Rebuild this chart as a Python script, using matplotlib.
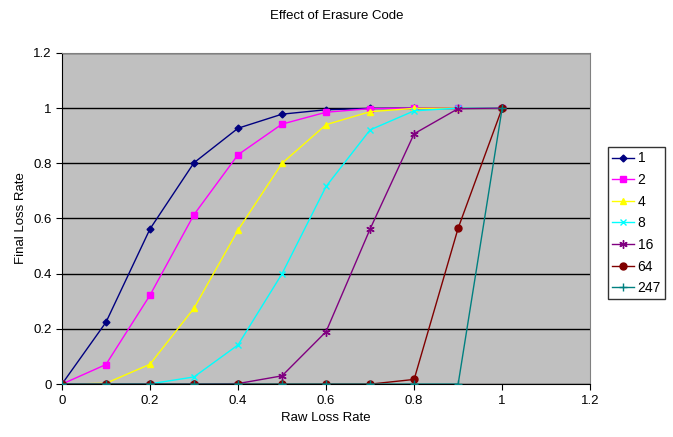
import matplotlib
matplotlib.use("Agg")
import matplotlib.pyplot as plt

plt.rcParams['font.family'] = ['Liberation Sans', 'DejaVu Sans']

x = [0, 0.1, 0.2, 0.3, 0.4, 0.5, 0.6, 0.7, 0.8, 0.9, 1.0]
s1 = [0, 0.224, 0.562, 0.802, 0.927, 0.978, 0.994, 0.999, 1, 1, 1]
s2 = [0, 0.071, 0.322, 0.614, 0.831, 0.942, 0.985, 0.998, 1, 1, 1]
s4 = [0, 0.003, 0.072, 0.275, 0.558, 0.80, 0.94, 0.987, 0.999, 1, 1]
s8 = [0, 0, 0.001, 0.026, 0.142, 0.40, 0.716, 0.921, 0.99, 1, 1]
s16 = [0, 0, 0, 0, 0.002, 0.03, 0.19, 0.562, 0.907, 0.998, 1]
s64 = [0, 0, 0, 0, 0, 0, 0, 0, 0.017, 0.565, 1]
s247 = [0, 0, 0, 0, 0, 0, 0, 0, 0, 0, 1]

labels = ['1', '2', '4', '8', '16', '64', '247']
series = [s1, s2, s4, s8, s16, s64, s247]
colors = ['#000080', '#FF00FF', '#FFFF00', '#00FFFF', '#800080', '#800000', '#008080']
markers = ['D', 's', '^', 'x', (6, 2, 0), 'o', '+']
msizes = [3.5, 5, 5, 5, 6, 5, 6]

fig = plt.figure(figsize=(6.73, 4.37), dpi=100)
ax = fig.add_axes([0.092, 0.121, 0.785, 0.758])
ax.set_facecolor('#C0C0C0')

for ys, lab, c, m, ms in zip(series, labels, colors, markers, msizes):
    ax.plot(x, ys, color=c, marker=m, markersize=ms, linewidth=1.0,
            markeredgewidth=1.0, label=lab, zorder=3)

ax.set_xlim(0, 1.2)
ax.set_ylim(0, 1.2)
xt = [0, 0.2, 0.4, 0.6, 0.8, 1, 1.2]
ax.set_xticks(xt)
ax.set_xticklabels(['0', '0.2', '0.4', '0.6', '0.8', '1', '1.2'])
ax.set_yticks(xt)
ax.set_yticklabels(['0', '0.2', '0.4', '0.6', '0.8', '1', '1.2'])
ax.yaxis.grid(True, color='black', linewidth=1.0, zorder=1)
ax.set_axisbelow(True)
ax.tick_params(axis='both', labelsize=9.5, length=4, direction='out', color='black')
for sp in ['left', 'bottom']:
    ax.spines[sp].set_color('black')
for sp in ['top', 'right']:
    ax.spines[sp].set_color('#808080')

ax.set_xlabel('Raw Loss Rate', fontsize=9.5)
ax.set_ylabel('Final Loss Rate', fontsize=9.5)
fig.text(0.5, 0.963, 'Effect of Erasure Code', ha='center', va='center', fontsize=9.5)

leg = fig.legend(*ax.get_legend_handles_labels(), loc='upper left',
                 bbox_to_anchor=(0.903, 0.663), bbox_transform=fig.transFigure,
                 frameon=True, fancybox=False, fontsize=10, handlelength=1.6,
                 borderpad=0.3, labelspacing=0.55, handletextpad=0.25,
                 borderaxespad=0.0)
leg.get_frame().set_edgecolor('black')
leg.get_frame().set_linewidth(1.0)

fig.savefig('out.png', dpi=100)
